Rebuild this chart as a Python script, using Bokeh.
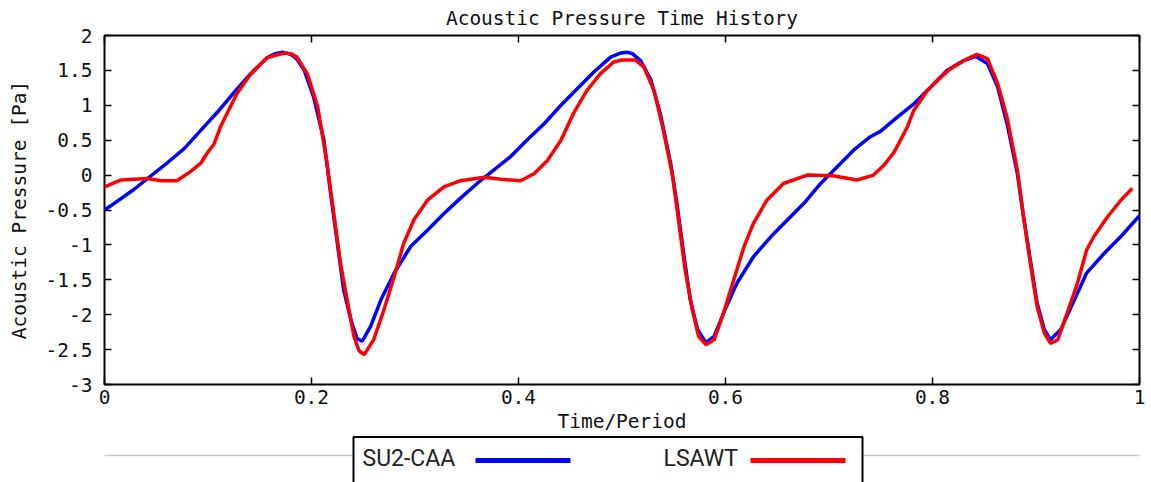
from bokeh.plotting import figure
from bokeh.models import Range1d, LinearAxis, FixedTicker
from bokeh.layouts import column
from bokeh.embed import file_html
from bokeh.resources import INLINE
from bokeh.core.properties import value

# ---------------- data ----------------
series_names = ["SU2-CAA", "LSAWT"]
series_colors = ["#0000ff", "#ff0000"]

time_su2 = [0.000, 0.006, 0.028, 0.044, 0.061, 0.077, 0.093, 0.109, 0.125, 0.141,
            0.157, 0.165, 0.172, 0.180, 0.186, 0.193, 0.202, 0.212, 0.218, 0.225,
            0.231, 0.238, 0.244, 0.249, 0.257, 0.267, 0.280, 0.296, 0.312, 0.328,
            0.344, 0.360, 0.376, 0.392, 0.408, 0.425, 0.441, 0.457, 0.473, 0.489,
            0.499, 0.505, 0.510, 0.518, 0.528, 0.537, 0.547, 0.553, 0.560, 0.566,
            0.573, 0.581, 0.589, 0.598, 0.611, 0.627, 0.644, 0.660, 0.676, 0.692,
            0.708, 0.724, 0.740, 0.750, 0.766, 0.782, 0.798, 0.814, 0.830, 0.842,
            0.853, 0.863, 0.872, 0.882, 0.888, 0.895, 0.901, 0.908, 0.914, 0.924,
            0.937, 0.949, 0.966, 0.982, 1.000]
p_su2 = [-0.50, -0.44, -0.21, -0.02, 0.18, 0.38, 0.64, 0.90, 1.18, 1.45,
         1.68, 1.74, 1.76, 1.73, 1.66, 1.50, 1.12, 0.50, -0.21, -0.98,
         -1.64, -2.07, -2.34, -2.38, -2.17, -1.79, -1.40, -1.02, -0.79, -0.55,
         -0.33, -0.12, 0.07, 0.26, 0.50, 0.74, 1.00, 1.24, 1.48, 1.69,
         1.75, 1.76, 1.74, 1.64, 1.36, 0.88, 0.17, -0.40, -1.17, -1.79,
         -2.21, -2.40, -2.31, -1.98, -1.55, -1.17, -0.88, -0.64, -0.40, -0.12,
         0.12, 0.36, 0.55, 0.63, 0.83, 1.02, 1.26, 1.50, 1.64, 1.70,
         1.60, 1.26, 0.74, 0.02, -0.60, -1.26, -1.83, -2.21, -2.36, -2.21,
         -1.79, -1.40, -1.12, -0.88, -0.58]

time_lsawt = [0.000, 0.016, 0.041, 0.055, 0.070, 0.083, 0.093, 0.099, 0.106, 0.112,
              0.119, 0.128, 0.141, 0.157, 0.166, 0.174, 0.180, 0.186, 0.196, 0.206,
              0.215, 0.222, 0.228, 0.235, 0.241, 0.246, 0.251, 0.260, 0.270, 0.280,
              0.289, 0.299, 0.312, 0.328, 0.344, 0.367, 0.383, 0.402, 0.415, 0.428,
              0.441, 0.453, 0.466, 0.479, 0.492, 0.500, 0.513, 0.521, 0.531, 0.540,
              0.549, 0.555, 0.561, 0.568, 0.574, 0.581, 0.589, 0.598, 0.608, 0.618,
              0.627, 0.640, 0.656, 0.679, 0.704, 0.727, 0.743, 0.753, 0.763, 0.769,
              0.776, 0.782, 0.795, 0.805, 0.817, 0.834, 0.843, 0.853, 0.863, 0.872,
              0.882, 0.888, 0.895, 0.901, 0.908, 0.914, 0.921, 0.930, 0.940, 0.949,
              0.956, 0.969, 0.982, 0.993]
p_lsawt = [-0.17, -0.07, -0.05, -0.08, -0.08, 0.05, 0.17, 0.31, 0.45, 0.69,
           0.90, 1.17, 1.44, 1.68, 1.72, 1.75, 1.74, 1.69, 1.45, 0.98,
           0.17, -0.60, -1.26, -1.83, -2.31, -2.52, -2.57, -2.36, -1.93, -1.45,
           -0.98, -0.64, -0.36, -0.17, -0.08, -0.03, -0.06, -0.08, 0.02, 0.21,
           0.50, 0.88, 1.21, 1.45, 1.62, 1.65, 1.65, 1.55, 1.21, 0.64,
           -0.02, -0.69, -1.36, -1.93, -2.31, -2.43, -2.36, -1.98, -1.50, -1.02,
           -0.69, -0.36, -0.12, 0.00, -0.01, -0.07, 0.00, 0.14, 0.33, 0.50,
           0.70, 0.93, 1.21, 1.36, 1.52, 1.67, 1.73, 1.67, 1.31, 0.83,
           0.07, -0.60, -1.31, -1.88, -2.26, -2.41, -2.36, -1.98, -1.55, -1.07,
           -0.88, -0.60, -0.36, -0.19]

x_ticks = [0, 0.2, 0.4, 0.6, 0.8, 1]
x_tick_labels = ["0", "0.2", "0.4", "0.6", "0.8", "1"]
y_ticks = [-3, -2.5, -2, -1.5, -1, -0.5, 0, 0.5, 1, 1.5, 2]
y_tick_labels = ["-3", "-2.5", "-2", "-1.5", "-1", "-0.5", "0", "0.5", "1", "1.5", "2"]

title_text = "Acoustic Pressure Time History"
x_label = "Time/Period"
y_label = "Acoustic Pressure [Pa]"

MONO = "DejaVu Sans Mono"
FS = "19.5px"

W = 1151
MAIN_H, KEY_H = 435, 47
FL, FR, FT, FB = 104, 1139, 35, 385   # frame edges in page pixels

# ---------------- main plot ----------------
p = figure(width=W, height=MAIN_H, x_range=Range1d(0, 1), y_range=Range1d(-3, 2),
           output_backend="svg", toolbar_location=None,
           min_border_left=FL, min_border_right=W - FR, min_border_top=FT,
           min_border_bottom=MAIN_H - FB)
p.title.text = title_text
p.title.align = "center"
p.title.text_font = MONO
p.title.text_font_size = FS
p.title.text_font_style = "normal"
p.title.text_color = "#111111"
p.title.vertical_align = "middle"
p.title.text_baseline = "alphabetic"
p.title.standoff = 9

p.grid.visible = False
p.outline_line_color = "black"
p.outline_line_width = 2
p.background_fill_color = "white"
p.border_fill_color = "white"

def style_axis(ax, ticks, labels, show_labels):
    ax.ticker = FixedTicker(ticks=ticks, minor_ticks=[])
    ax.major_label_overrides = dict(zip(ticks, labels))
    ax.major_tick_in = 7
    ax.major_tick_out = 0
    ax.major_tick_line_color = "black"
    ax.major_tick_line_width = 1.5
    ax.minor_tick_line_color = None
    ax.axis_line_color = None
    ax.major_label_text_font = MONO
    ax.major_label_text_color = "#111111"
    ax.axis_label_text_font = MONO
    ax.axis_label_text_font_size = FS
    ax.axis_label_text_font_style = "normal"
    ax.axis_label_text_color = "#111111"
    if show_labels:
        ax.major_label_text_font_size = FS
    else:
        ax.major_label_text_font_size = "1px"
        ax.major_label_text_color = None
        ax.major_label_standoff = 0

style_axis(p.xaxis[0], x_ticks, x_tick_labels, True)
style_axis(p.yaxis[0], y_ticks, y_tick_labels, True)
p.xaxis[0].axis_label = x_label
p.xaxis[0].major_label_standoff = 5
p.xaxis[0].axis_label_standoff = 3
p.yaxis[0].axis_label = y_label
p.yaxis[0].major_label_standoff = 12
p.yaxis[0].axis_label_standoff = 12

top_ax = LinearAxis()
style_axis(top_ax, x_ticks, x_tick_labels, False)
p.add_layout(top_ax, "above")
right_ax = LinearAxis()
style_axis(right_ax, y_ticks, y_tick_labels, False)
p.add_layout(right_ax, "right")

p.line(time_su2, p_su2, line_color=series_colors[0], line_width=3.5)
p.line(time_lsawt, p_lsawt, line_color=series_colors[1], line_width=3.5)

# ---------------- gnuplot-style key strip (label, then sample line) ----------------
# the strip's frame spans the same page columns as the main frame; its data units are page pixels
key = figure(width=W, height=KEY_H, x_range=Range1d(FL, FR), y_range=Range1d(MAIN_H + KEY_H, MAIN_H),
             output_backend="svg", toolbar_location=None,
             x_axis_type=None, y_axis_type=None,
             min_border_left=FL, min_border_right=W - FR, min_border_top=0, min_border_bottom=0)
key.grid.visible = False
key.outline_line_color = None
key.background_fill_color = "white"
key.border_fill_color = "white"

key_left, key_right, key_top = 353, 862, 436.5
row_py = 459
rule_py = 455
label_px = [362, 663]
sample_px = [475, 750]
sample_len = 95

key.segment(x0=[0], y0=[rule_py], x1=[W], y1=[rule_py], line_color="#c8c8c8", line_width=1.5)
key.quad(left=[key_left], right=[key_right], top=[key_top], bottom=[MAIN_H + KEY_H + 10],
         fill_color="white", line_color="black", line_width=2)
key.text(x=label_px, y=[row_py - 1] * 2, text=series_names,
         text_font=value("Roboto"), text_font_size="23px",
         text_baseline="middle", text_align="left", text_color="#222222")
key.segment(x0=sample_px, y0=[row_py + 1] * 2, x1=[x + sample_len for x in sample_px],
            y1=[row_py + 1] * 2, line_color=series_colors, line_width=5)

layout = column(p, key, spacing=0)
open("out.html", "w").write(file_html(layout, INLINE))
